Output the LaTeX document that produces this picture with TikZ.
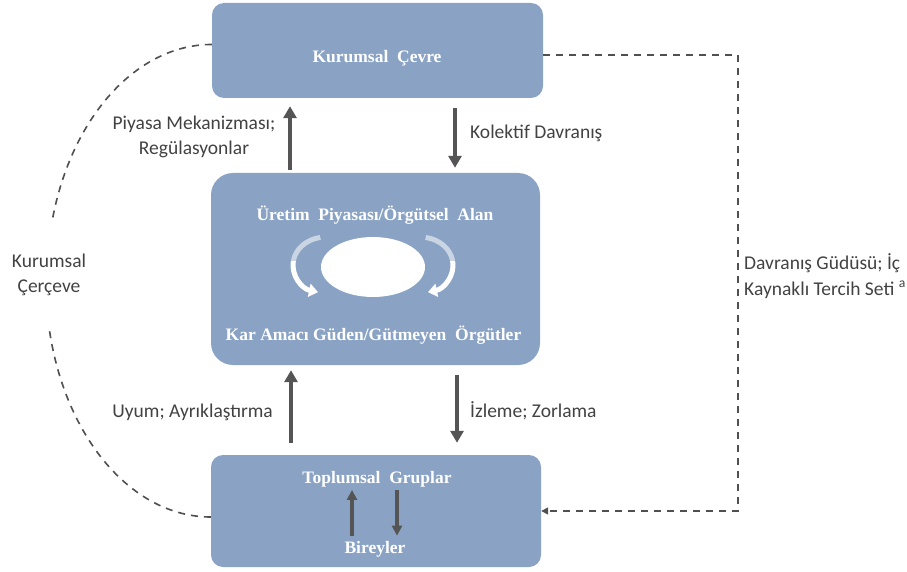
\documentclass[tikz,border=0pt]{standalone}
\usepackage{fontspec}
\setmainfont{Carlito}
\newfontfamily\panelfont{Liberation Serif}
\usetikzlibrary{arrows.meta,calc,shapes.geometric}
\definecolor{panelblue}{RGB}{138,163,196}
\definecolor{flowgray}{RGB}{85,85,85}
\definecolor{labelgray}{RGB}{66,66,66}
\definecolor{dashgray}{RGB}{80,80,80}

\begin{document}
\begin{tikzpicture}[x=1pt,y=-1pt,
  panel/.style={fill=panelblue, draw=none, rounded corners=12pt, inner sep=0pt},
  paneltext/.style={text=white, font=\panelfont\bfseries\fontsize{17.5}{20}\selectfont, inner sep=0pt},
  lbl/.style={text=labelgray, font=\fontsize{19.5}{25.5}\selectfont, inner sep=0pt},
  flow/.style={draw=flowgray, line width=4pt, -{Triangle[width=13pt,length=12pt]}},
  smallflow/.style={draw=flowgray, line width=3.6pt, -{Triangle[width=10pt,length=10pt]}},
  frameline/.style={draw=dashgray, line width=1.6pt, dash pattern=on 7pt off 6pt},
  swirl/.style={draw=white, line width=5pt},
]
\useasboundingbox (0,0) rectangle (907,572);

% the three levels
\node[panel, minimum width=331pt, minimum height=95pt] (env) at (377.5,50.5) {};
\node[panel, minimum width=329pt, minimum height=192pt, rounded corners=22pt] (field) at (375.5,269) {};
\node[panel, minimum width=330pt, minimum height=112pt] (groups) at (376,511) {};

% panel titles
\node[paneltext, anchor=base] (envt) at (377,63) {Kurumsal\ \ Çevre};
\node[paneltext, anchor=base] (fieldt) at (375,220) {Üretim\ \ Piyasası/Örgütsel\ \ Alan};
\node[paneltext, anchor=base] (orgt) at (373.5,340) {Kar Amacı Güden/Gütmeyen\ \ Örgütler};
\node[paneltext, anchor=base] (grpt) at (377,483) {Toplumsal\ \ Gruplar};
\node[paneltext, anchor=base] (indt) at (375,553) {Bireyler};

% organisational field: central ellipse with circulating arrows
\node[fill=white, draw=none, ellipse, minimum width=104pt, minimum height=60pt, inner sep=0pt] (core) at (373,267) {};
\coordinate (lc) at (326,265);
\coordinate (rc) at (420,265);
\draw[swirl, opacity=0.55] ([shift={(100:33pt and 28pt)}]lc) arc[start angle=100, end angle=172, x radius=33pt, y radius=28pt];
\draw[swirl, -{Triangle[width=13pt,length=9pt]}] ([shift={(172:33pt and 28pt)}]lc) arc[start angle=172, end angle=256, x radius=33pt, y radius=28pt];
\draw[swirl, opacity=0.55] ([shift={(80:33pt and 28pt)}]rc) arc[start angle=80, end angle=8, x radius=33pt, y radius=28pt];
\draw[swirl, -{Triangle[width=13pt,length=9pt]}] ([shift={(8:33pt and 28pt)}]rc) arc[start angle=8, end angle=-76, x radius=33pt, y radius=28pt];

% vertical flows between levels
\coordinate (xa) at (290,0);
\coordinate (xb) at (455,0);
\coordinate (xc) at (291,0);
\coordinate (xd) at (457,0);
\draw[flow] ($(field.north -| xa)+(0,-3)$) -- ($(env.south -| xa)+(0,8)$);
\draw[flow] ($(env.south -| xb)+(0,10)$) -- ($(field.north -| xb)+(0,-5)$);
\draw[flow] ($(groups.north -| xc)+(0,-12)$) -- ($(field.south -| xc)+(0,5)$);
\draw[flow] ($(field.south -| xd)+(0,10)$) -- ($(groups.north -| xd)+(0,-12)$);

% groups and individuals
\coordinate (xe) at (352,0);
\coordinate (xf) at (397,0);
\draw[smallflow] ($(indt.north -| xe)+(0,-5)$) -- ($(grpt.south -| xe)+(0,3)$);
\draw[smallflow] ($(grpt.south -| xf)+(0,3)$) -- ($(indt.north -| xf)+(0,-5)$);

% flow labels
\node[lbl, align=center] (mech) at (194,137) {Piyasa Mekanizması;\\Regülasyonlar};
\node[lbl, anchor=base west] (coll) at (470,139) {Kolektif Davranış};
\node[lbl, anchor=base east] (adapt) at (273,417) {Uyum; Ayrıklaştırma};
\node[lbl, anchor=base west] (monit) at (470,417) {İzleme; Zorlama};

% institutional frame (left)
\draw[frameline] ([yshift=6pt]env.west) arc[start angle=90, end angle=165, x radius=165pt, y radius=236pt];
\draw[frameline] ([yshift=-6pt]groups.west) arc[start angle=270, end angle=192, x radius=165pt, y radius=236pt];
\node[lbl, align=center] (frame) at (49,275) {Kurumsal\\Çerçeve};

% motive loop (right)
\coordinate (xr) at (738,0);
\draw[frameline, -{Triangle[width=7pt,length=7pt]}] ([yshift=-4.5pt]env.east) -| (xr |- groups.east) -- (groups.east);
\node[lbl, align=left, anchor=west] (motive) at (744,276) {Davranış Güdüsü; İç\\Kaynaklı Tercih Seti \textsuperscript{a}};
\end{tikzpicture}
\end{document}
